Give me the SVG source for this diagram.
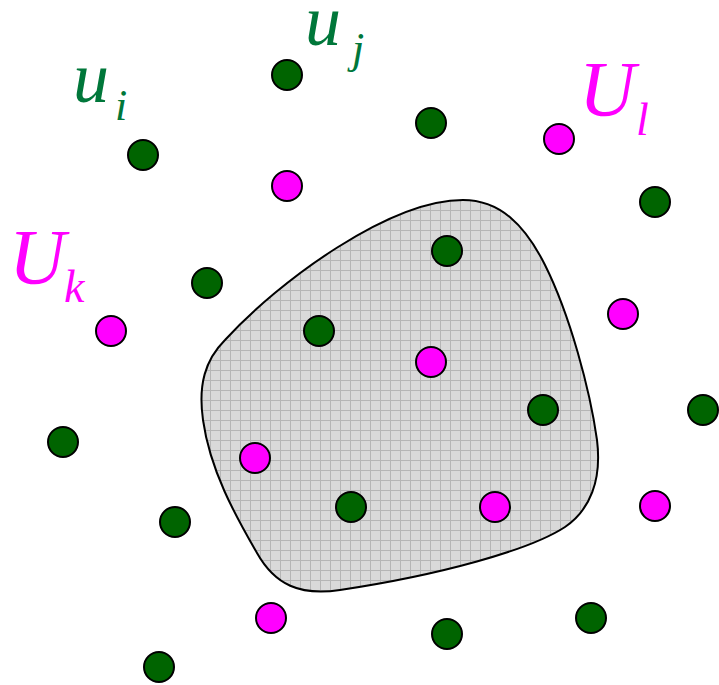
<svg xmlns="http://www.w3.org/2000/svg" width="719" height="685" viewBox="0 0 719 685">
<style>
.g{fill:#006400;stroke:#000;stroke-width:2}
.m{fill:#ff00ff;stroke:#000;stroke-width:2}
.lbl{font-family:"Liberation Serif","Times New Roman",serif;font-style:italic}
.gt{fill:#00773a}
.mt{fill:#ff00ff}
</style>
<defs>
<pattern id="grid" width="10" height="10" patternUnits="userSpaceOnUse">
<rect width="10" height="10" fill="#d9d9d9"/>
<path d="M0.5,0 V10 M0,0.5 H10" stroke="#b5b5b5" stroke-width="1" fill="none"/>
</pattern>
</defs>
<g id="region">
<path d="M463,200 C500,200 525,225 545,265 C570,315 590,390 597,440 C602,480 590,510 565,527 C530,550 440,575 340,590 C300,596 275,585 257,553 C235,515 210,470 203,420 C198,385 205,360 225,340 C280,280 390,200 463,200 Z" fill="url(#grid)" stroke="#000" stroke-width="2"/>
</g>
<g id="connectors"/>
<g id="nodes">
<circle class="g" cx="287" cy="75" r="15"/>
<circle class="g" cx="431" cy="123" r="15"/>
<circle class="g" cx="143" cy="155" r="15"/>
<circle class="g" cx="655" cy="202" r="15"/>
<circle class="g" cx="447" cy="251" r="15"/>
<circle class="g" cx="207" cy="283" r="15"/>
<circle class="g" cx="319" cy="331" r="15"/>
<circle class="g" cx="543" cy="410" r="15"/>
<circle class="g" cx="703" cy="410" r="15"/>
<circle class="g" cx="63" cy="442" r="15"/>
<circle class="g" cx="175" cy="522" r="15"/>
<circle class="g" cx="351" cy="507" r="15"/>
<circle class="g" cx="447" cy="634" r="15"/>
<circle class="g" cx="591" cy="618" r="15"/>
<circle class="g" cx="159" cy="667" r="15"/>
<circle class="m" cx="559" cy="139" r="15"/>
<circle class="m" cx="287" cy="186" r="15"/>
<circle class="m" cx="111" cy="331" r="15"/>
<circle class="m" cx="623" cy="314" r="15"/>
<circle class="m" cx="431" cy="362" r="15"/>
<circle class="m" cx="255" cy="458" r="15"/>
<circle class="m" cx="495" cy="507" r="15"/>
<circle class="m" cx="655" cy="506" r="15"/>
<circle class="m" cx="271" cy="618" r="15"/>
</g>
<g id="labels">
<text class="lbl gt" x="73" y="102" font-size="72">u</text>
<text class="lbl gt" x="115" y="120" font-size="44">i</text>
<text class="lbl gt" x="305" y="45" font-size="72">u</text>
<text class="lbl gt" x="352" y="63" font-size="44">j</text>
<text class="lbl mt" x="579" y="115" font-size="78">U</text>
<text class="lbl mt" x="636" y="135" font-size="46">l</text>
<text class="lbl mt" x="9" y="283" font-size="78">U</text>
<text class="lbl mt" x="64" y="302" font-size="46">k</text>
</g>
</svg>
